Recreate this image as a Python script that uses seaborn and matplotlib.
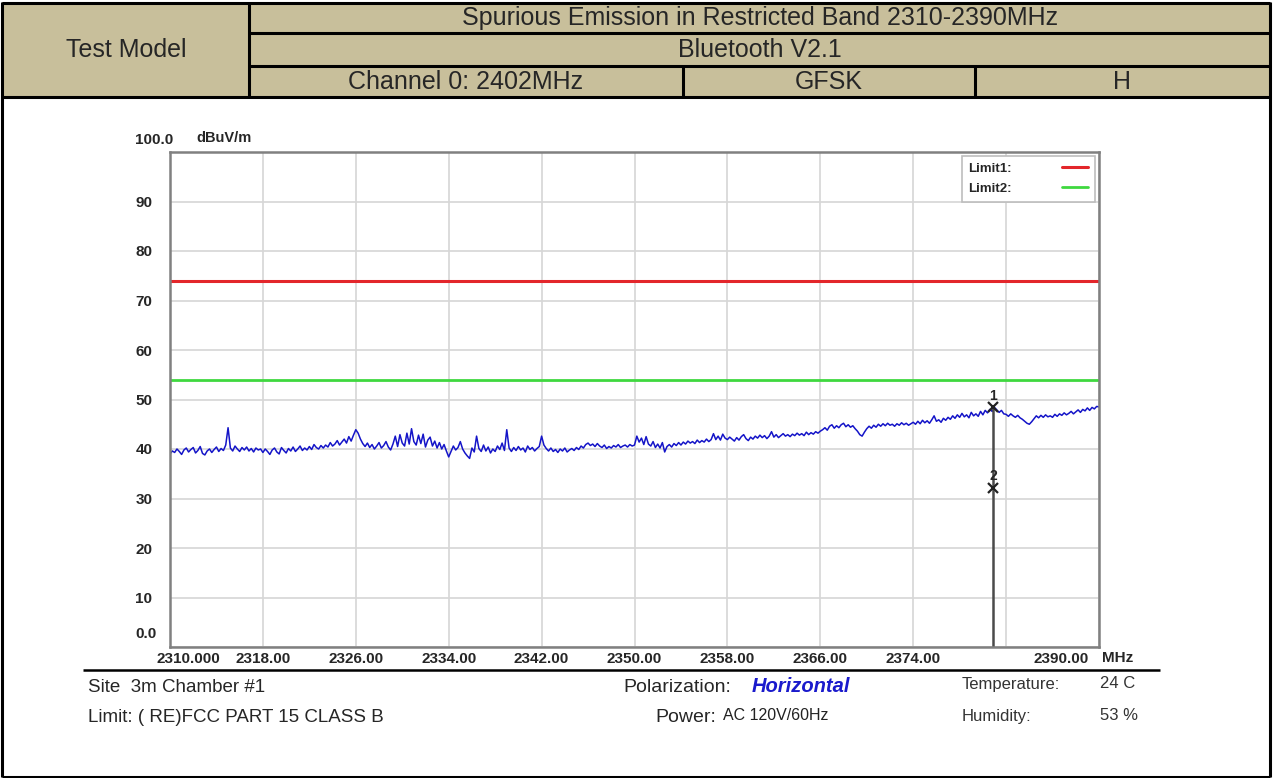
import numpy as np
import pandas as pd
import matplotlib
matplotlib.use("Agg")
import matplotlib.pyplot as plt
import matplotlib.transforms as mtransforms
from matplotlib.lines import Line2D
from matplotlib.patches import Rectangle
import seaborn as sns

# Header table texts
header_title = "Spurious Emission in Restricted Band 2310-2390MHz"
header_mode = "Bluetooth V2.1"
header_channel = "Channel 0: 2402MHz"
header_modulation = "GFSK"
header_pol = "H"

# Sweep 2310-2390 MHz, level in dBuV/m (0.2 MHz steps, one row = 8 MHz)
sweep_start, sweep_stop = 2310.0, 2390.0
level = [
    39.0, 39.6, 39.3, 40.0, 39.5, 38.9, 39.8, 40.2, 39.4, 39.9, 40.3, 39.2, 39.7, 40.5, 39.1, 38.8, 39.6, 40.0, 39.3, 39.9,
    40.4, 39.5, 40.1, 39.7, 40.8, 44.3, 40.2, 39.6, 40.6, 40.0, 39.5, 40.3, 39.8, 40.4, 39.6, 40.1, 39.4, 40.2, 39.8, 40.0,
    39.3, 40.0, 39.5, 38.9, 39.8, 40.2, 39.4, 39.0, 40.3, 39.7, 39.2, 40.1, 39.6, 40.4, 39.5, 40.0, 40.6, 39.7, 40.2, 39.8,
    40.5, 39.9, 40.9, 40.3, 40.0, 40.7, 40.2, 40.8, 40.4, 41.3, 40.6, 41.0, 41.7, 40.8, 41.4, 42.0, 41.2, 42.5, 41.6, 42.8,
    43.9, 43.2, 42.0, 41.1, 40.5, 41.2, 40.3, 40.9, 40.0, 40.6, 41.3, 40.2, 40.7, 41.5, 40.4, 39.8, 41.0, 42.6, 40.5, 42.9,
    41.2, 40.6, 43.2, 41.0, 44.1, 41.5, 40.8, 42.8, 41.1, 43.0, 40.4, 41.8, 42.4, 40.6, 41.6, 40.2, 41.3, 40.0, 40.9, 39.6,
    38.4, 39.5, 40.6, 39.8, 40.3, 41.5, 40.0, 39.2, 38.6, 38.1, 40.2, 39.4, 42.6, 40.1, 39.5, 40.8, 39.6, 40.4, 39.2, 40.0,
    39.5, 40.6, 39.9, 41.2, 39.7, 43.9, 40.2, 39.5, 40.3, 39.7, 40.5, 39.8, 40.2, 39.4, 40.6, 39.9, 40.3, 39.6, 40.1, 40.5,
    42.6, 40.8, 40.1, 39.6, 40.2, 39.5, 39.9, 39.3, 40.0, 39.6, 40.2, 39.4, 39.8, 40.1, 39.7, 40.3, 39.9, 40.6, 40.2, 40.9,
    41.2, 40.7, 41.0, 40.5, 41.1, 40.6, 40.3, 40.8, 40.1, 40.5, 40.2, 40.7, 40.4, 40.9, 40.3, 40.6, 40.8, 40.4, 40.9, 40.6,
    40.8, 42.6, 41.4, 42.2, 40.9, 42.5, 41.0, 40.6, 41.5, 40.3, 41.0, 40.2, 41.3, 39.4, 40.5, 40.9, 40.4, 41.1, 40.7, 41.3,
    40.8, 41.4, 41.0, 41.6, 41.2, 41.5, 41.1, 41.8, 41.3, 41.7, 41.4, 42.0, 41.5, 41.9, 43.1, 41.9, 42.6, 41.8, 43.0, 42.2,
    41.9, 42.4, 42.0, 41.6, 42.3, 41.8, 42.5, 42.9, 42.1, 41.7, 42.4, 42.0, 42.6, 42.2, 42.8, 42.3, 42.7, 42.1, 42.6, 43.5,
    42.4, 42.9, 42.3, 42.7, 43.1, 42.6, 42.9, 42.5, 43.0, 42.7, 43.2, 42.8, 43.1, 42.7, 43.4, 42.9, 43.3, 43.0, 43.5, 43.2,
    43.6, 43.9, 44.3, 43.8, 44.6, 44.9, 44.2, 44.7, 44.3, 44.9, 45.2, 44.5, 44.9, 44.4, 44.7, 44.1, 43.6, 42.9, 42.6, 43.4,
    44.1, 44.6, 44.2, 44.8, 44.4, 45.0, 44.6, 45.1, 44.7, 45.2, 44.8, 45.0, 44.6, 45.1, 44.8, 45.3, 44.9, 45.2, 44.8, 45.1,
    45.4, 45.0, 45.6, 45.1, 45.8, 45.3, 45.7, 45.2, 45.9, 46.7, 45.6, 45.9, 45.4, 46.2, 45.8, 46.4, 46.0, 46.7, 46.2, 46.9,
    46.4, 47.2, 46.5, 46.9, 46.3, 47.4, 46.7, 47.1, 46.6, 47.6, 46.9, 47.8, 47.3, 48.0, 47.6, 48.4, 47.9, 47.4, 47.8, 47.1,
    47.0, 46.6, 47.1, 46.7, 46.4, 46.8, 46.3, 46.0, 45.6, 45.2, 45.0, 45.5, 46.1, 46.7, 46.3, 46.8, 46.4, 46.9, 46.5, 46.7,
    46.4, 47.0, 46.6, 47.1, 46.8, 47.3, 46.9, 47.2, 47.6, 47.1, 47.5, 47.9, 47.4, 48.0, 47.7, 48.3, 47.8, 48.4, 48.1, 48.6,
    48.5,
]
freq = np.linspace(sweep_start, sweep_stop, len(level))

limit1 = 74.0
limit2 = 54.0
marker_freq = 2380.9
marker_levels = [48.5, 32.2]
marker_names = ["1", "2"]

x_ticks = [2310, 2318, 2326, 2334, 2342, 2350, 2358, 2366, 2374, 2382, 2390]
x_tick_labels = ["2310.000", "2318.00", "2326.00", "2334.00", "2342.00", "2350.00",
                 "2358.00", "2366.00", "2374.00", "", "2390.00"]
y_ticks = [0, 10, 20, 30, 40, 50, 60, 70, 80, 90, 100]
y_tick_labels = ["0.0", "10", "20", "30", "40", "50", "60", "70", "80", "90", "100.0"]

sns.set_style("white")
plt.rcParams['font.family'] = ['Liberation Sans', 'DejaVu Sans']

W, H = 1273, 778
fig = plt.figure(figsize=(W / 100, H / 100), dpi=100)

# page layer in pixel coordinates (header table, frame, footer info)
page = fig.add_axes([0, 0, 1, 1])
page.set_xlim(0, W)
page.set_ylim(H, 0)
page.axis('off')

tan = '#c8bf9b'
page.add_patch(Rectangle((2, 2), 1268, 95, facecolor=tan, edgecolor='none'))
blk = dict(color='black', lw=2.2)
page.hlines([3, 97], 2, 1270, **blk)
page.hlines([33, 66], 249, 1270, **blk)
page.vlines([2, 1270], 2, 777, **blk)
page.vlines(249, 2, 97, **blk)
page.vlines([683, 975], 66, 97, **blk)
page.hlines(777, 2, 1270, **blk)

hdr = dict(ha='center', va='center', fontsize=18)
page.text(126, 50, "Test Model", **hdr)
page.text(760, 18, header_title, **hdr)
page.text(760, 50, header_mode, **hdr)
page.text(466, 82, header_channel, **hdr)
page.text(829, 82, header_modulation, **hdr)
page.text(1122, 82, header_pol, **hdr)

# footer
page.hlines(670, 83, 1160, color='black', lw=1.8)
page.text(88, 687, "Site  3m Chamber #1", fontsize=13.5, va='center')
page.text(88, 718, "Limit: ( RE)FCC PART 15 CLASS B", fontsize=13.5, va='center')
page.text(623, 687, "Polarization:", fontsize=14, va='center')
page.text(752, 687, "Horizontal", fontsize=14.5, va='center', color='#1a1acc',
          fontweight='bold', style='italic')
page.text(655, 718, "Power:", fontsize=14, va='center')
page.text(723, 716, "AC 120V/60Hz", fontsize=11.5, va='center', color='#222222')
page.text(962, 684, "Temperature:", fontsize=12, va='center', color='#333333')
page.text(1100, 684, "24 C", fontsize=12, va='center', color='#333333')
page.text(962, 716, "Humidity:", fontsize=12, va='center', color='#333333')
page.text(1100, 716, "53 %", fontsize=12, va='center', color='#333333')
page.text(1102, 658, "MHz", fontsize=11, va='center', fontweight='bold')
page.text(196, 138, "dBuV/m", fontsize=10.5, va='center', fontweight='bold')

# spectrum plot
ax = fig.add_axes([170 / W, 1 - 647 / H, 929 / W, 495 / H])
df = pd.DataFrame({'Frequency': freq, 'Level': level})
sns.lineplot(data=df, x='Frequency', y='Level', color='#1414c8', lw=1.1, ax=ax)
ax.axhline(limit1, color='#e3262b', lw=2.2)
ax.axhline(limit2, color='#3fd83f', lw=2.0)
ax.vlines(marker_freq, 0, marker_levels[0], color='#4a4a4a', lw=1.8)
ax.plot([marker_freq] * len(marker_levels), marker_levels, 'x', color='#222222', ms=7, mew=1.6)
for name, lv in zip(marker_names, marker_levels):
    ax.annotate(name, (marker_freq, lv), xytext=(0, 8), textcoords='offset points',
                ha='center', va='center', fontsize=10, fontweight='bold')

ax.set_xlim(sweep_start, sweep_stop)
ax.set_ylim(0, 100)
ax.set_xticks(x_ticks, x_tick_labels)
ax.set_yticks(y_ticks, y_tick_labels)
ax.set_xlabel('')
ax.set_ylabel('')
ax.grid(True, color='#d6d6d6', lw=1.2)
ax.tick_params(length=0, labelsize=11)
ax.tick_params(axis='x', pad=3.5)
ax.tick_params(axis='y', pad=25)
for sp in ax.spines.values():
    sp.set_color('#808080')
    sp.set_linewidth(1.8)
    sp.set_visible(True)

for lbl in ax.get_xticklabels() + ax.get_yticklabels():
    lbl.set_fontweight('bold')
for lbl in ax.get_yticklabels():
    lbl.set_ha('left')
up = mtransforms.ScaledTranslation(0, 14 / 100, fig.dpi_scale_trans)
ylbl = ax.get_yticklabels()
ylbl[0].set_transform(ylbl[0].get_transform() + up)
ylbl[-1].set_transform(ylbl[-1].get_transform() + up)
xlbl = ax.get_xticklabels()
xlbl[0].set_transform(xlbl[0].get_transform() + mtransforms.ScaledTranslation(18 / 100, 0, fig.dpi_scale_trans))
xlbl[-1].set_ha('right')
xlbl[-1].set_transform(xlbl[-1].get_transform() + mtransforms.ScaledTranslation(-10 / 100, 0, fig.dpi_scale_trans))

handles = [Line2D([], [], color='#e3262b', lw=2.2), Line2D([], [], color='#3fd83f', lw=2.0)]
leg = ax.legend(handles, ['Limit1:', 'Limit2:'], loc='upper right', markerfirst=False,
                fancybox=False, framealpha=1, edgecolor='#bdbdbd',
                prop={'weight': 'bold', 'size': 9.5}, handlelength=2.0, handletextpad=3.8,
                borderaxespad=0.3, labelspacing=0.6, borderpad=0.5)
leg.get_frame().set_linewidth(1.2)

fig.savefig('out.png', dpi=100)
